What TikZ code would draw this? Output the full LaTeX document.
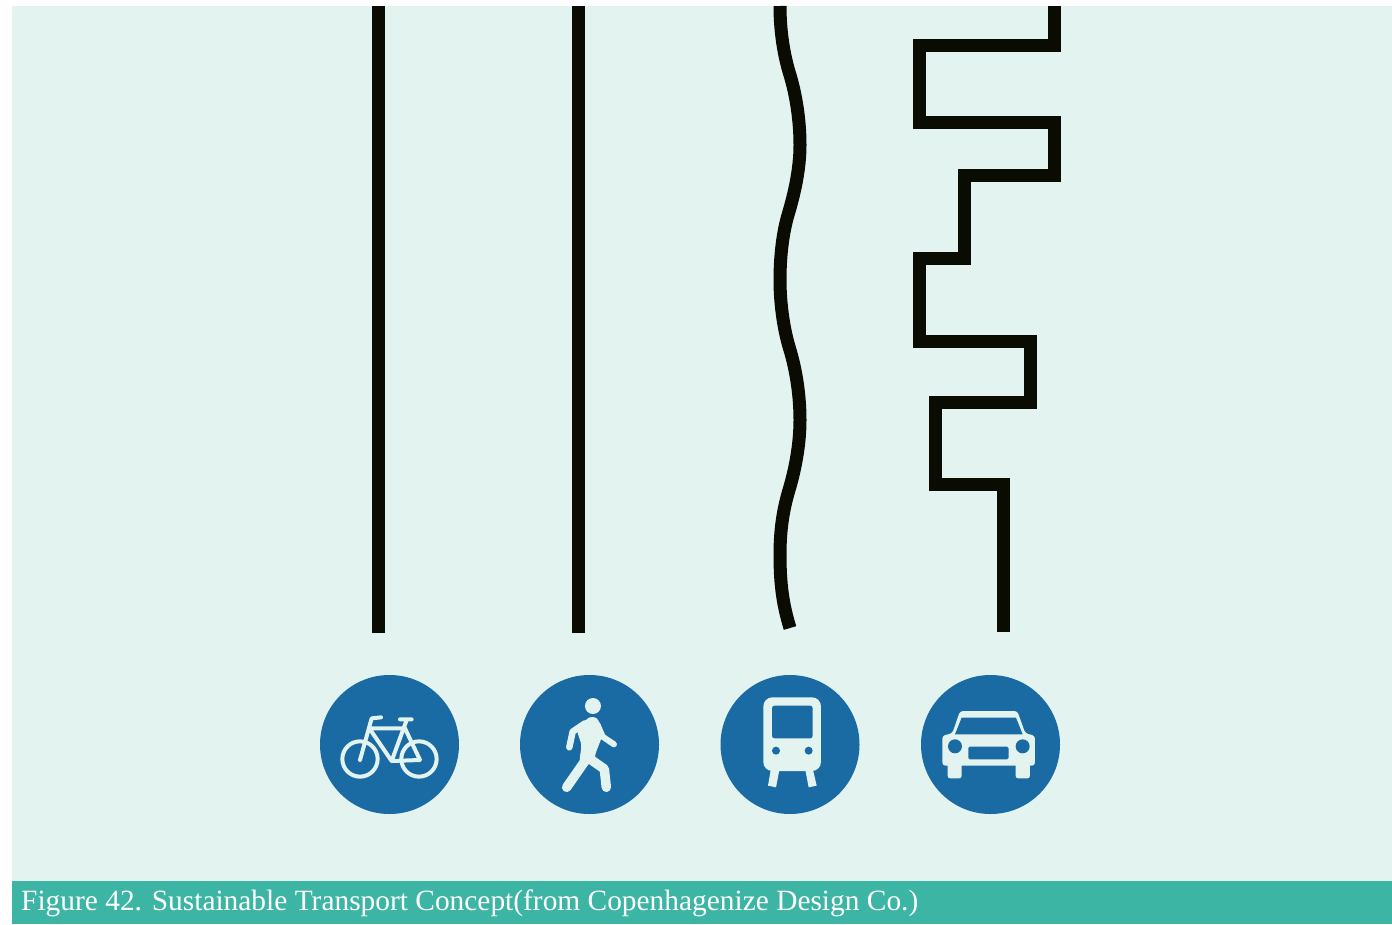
\documentclass[tikz,border=0pt]{standalone}
\usepackage{fontspec}
\setmainfont{Liberation Serif}
\definecolor{pale}{HTML}{E3F3EF}
\definecolor{band}{HTML}{3DB5A4}
\definecolor{ink}{HTML}{0A0C04}
\definecolor{signblue}{HTML}{1A6AA3}
\begin{document}
\begin{tikzpicture}[
  x=1pt, y=-1pt, line join=miter,
  route/.style={draw=ink, line width=13pt},
  sign/.style={circle, fill=signblue, minimum size=139pt, inner sep=0pt},
  icon/.style={x=0.3333pt, y=-0.3333pt},
  glyph/.style={fill=pale},
  hole/.style={fill=signblue},
  limb/.style={draw=pale, line cap=round, line join=round}]
  \useasboundingbox (0,0) rectangle (1392,924);
  \fill[pale] (12,6) rectangle (1392,881);
  \node[fill=band, minimum width=1380pt, minimum height=43pt, inner sep=0pt, anchor=north west] (band) at (12,881) {};
  \node[anchor=base west, inner sep=0pt, text=white, font=\fontsize{29.4pt}{32pt}\selectfont] (caption) at (21,910) {Figure 42. Sustainable Transport Concept(from Copenhagenize Design Co.)};
  % the four signs
  \node[sign] (bike) at (389.5,744.5) {};
  \node[sign] (walk) at (589.5,744.5) {};
  \node[sign] (train) at (790,744.5) {};
  \node[sign] (car) at (990.5,744.5) {};
  % the four routes
  \draw[route] (378.5,6) -- (378.5,633);
  \draw[route] (578.5,6) -- (578.5,633);
  \draw[route] (780,6) .. controls (780,32) and (784,56) .. (790,75)
    .. controls (796,95) and (800,120) .. (800,145)
    .. controls (800,170) and (794,195) .. (788,215)
    .. controls (783,232) and (780,255) .. (780,280)
    .. controls (780,305) and (784,331) .. (790,350)
    .. controls (796,370) and (800,395) .. (800,420)
    .. controls (800,445) and (795,470) .. (789,490)
    .. controls (783,510) and (780,530) .. (780,555)
    .. controls (780,585) and (783,605) .. (790,628);
  \draw[route] (1054,6) |- (919.5,45.5) |- (1054,122.5) |- (964.5,175) |- (919.5,258)
    |- (1030.5,341.5) |- (935,402.5) |- (1003,484.5) -- (1003,632);
  % bicycle
  \begin{scope}[shift={(310,665)}, icon]
    \draw[limb, line width=4pt] (150,282) circle (53) (327,282) circle (53);
    \draw[limb, line width=4pt] (150,285) -- (185,160) -- (213,157) (178,190) -- (285,190)
      (178,190) -- (245,288) -- (290,165) (270,163) -- (305,163)
      (245,288) -- (330,285) -- (285,190);
    % pedestrian
    \fill[glyph] (849,123) circle (24);
    \fill[glyph, rounded corners=3pt] (800,195) -- (838,155) -- (862,158) -- (880,205) -- (855,270)
      -- (855,290) -- (822,302) -- (808,290) -- (815,240) -- cycle;
    \draw[limb, line width=6.5pt] (825,175) -- (788,200) -- (778,247);
    \draw[limb, line width=6pt] (862,178) -- (878,215) -- (912,238);
    \draw[limb, line width=9.5pt] (825,288) -- (770,367);
    \draw[limb, line width=9.5pt] (843,284) -- (883,312) -- (889,367);
  \end{scope}
  % train
  \begin{scope}[shift={(710,665)}, icon]
    \fill[glyph] (183,310) -- (174,362) -- (198,367) -- (209,310) -- cycle;
    \fill[glyph] (285,310) -- (296,367) -- (320,362) -- (308,310) -- cycle;
    \fill[glyph, rounded corners=9pt] (160,97) rectangle (333,318);
    \fill[hole, rounded corners=2.5pt] (186,122) rectangle (308,220);
    \fill[hole] (198,257) circle (12) (296,257) circle (12);
    % car
    \fill[glyph, rounded corners=2.5pt] (713,290) rectangle (755,340) (917,290) rectangle (960,340);
    \fill[glyph, rounded corners=3pt] (750,138) -- (922,138) -- (946,205) -- (975,212) -- (975,302)
      -- (697,302) -- (697,212) -- (727,205) -- cycle;
    \fill[hole] (755,158) -- (918,158) -- (938,208) -- (735,208) -- cycle;
    \fill[hole] (735,244) circle (21) (938,244) circle (21);
    \fill[hole, rounded corners=1.5pt] (775,245) rectangle (896,283);
  \end{scope}
\end{tikzpicture}
\end{document}
